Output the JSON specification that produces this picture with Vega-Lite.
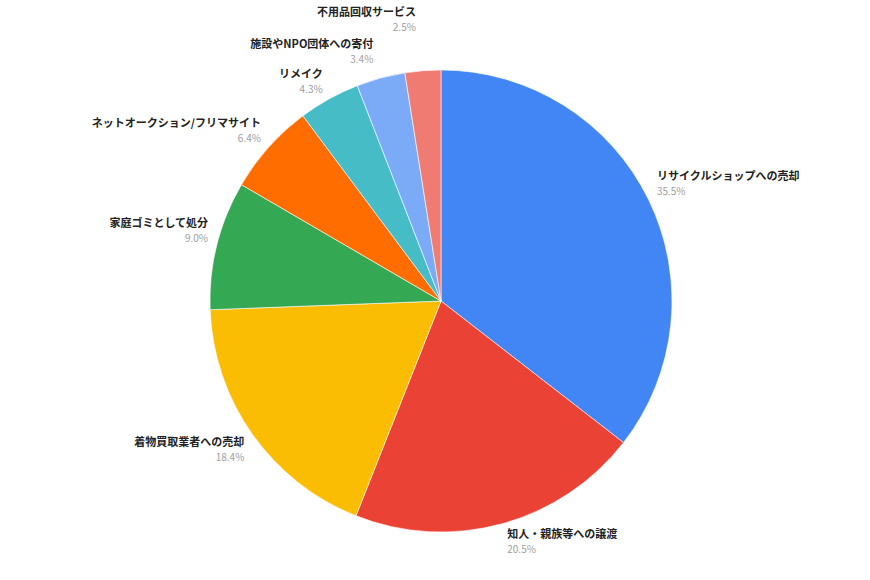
{
  "$schema": "https://vega.github.io/schema/vega-lite/v6.json",
  "autosize": {"type": "none"},
  "width": 858,
  "height": 558,
  "padding": {"left": 12, "top": 22, "right": 0, "bottom": 0},
  "background": "white",
  "view": {"stroke": null},
  "data": {
    "values": [
      {"label": "リサイクルショップへの売却", "share": 0.355, "order": 1},
      {"label": "知人・親族等への譲渡", "share": 0.205, "order": 2},
      {"label": "着物買取業者への売却", "share": 0.184, "order": 3},
      {"label": "家庭ゴミとして処分", "share": 0.09, "order": 4},
      {"label": "ネットオークション/フリマサイト", "share": 0.064, "order": 5},
      {"label": "リメイク", "share": 0.043, "order": 6},
      {"label": "施設やNPO団体への寄付", "share": 0.034, "order": 7},
      {"label": "不用品回収サービス", "share": 0.025, "order": 8}
    ]
  },
  "encoding": {
    "theta": {"field": "share", "type": "quantitative", "stack": true},
    "order": {"field": "order", "type": "quantitative"}
  },
  "layer": [
    {
      "mark": {"type": "arc", "outerRadius": 231, "stroke": "white", "strokeWidth": 0.6},
      "encoding": {
        "color": {
          "field": "label",
          "type": "nominal",
          "legend": null,
          "scale": {
            "domain": ["リサイクルショップへの売却", "知人・親族等への譲渡", "着物買取業者への売却", "家庭ゴミとして処分", "ネットオークション/フリマサイト", "リメイク", "施設やNPO団体への寄付", "不用品回収サービス"],
            "range": ["#4285F4", "#EA4335", "#FBBC04", "#34A853", "#FF6D01", "#46BDC6", "#7BAAF7", "#F07B72"]
          }
        }
      }
    },
    {
      "mark": {
        "type": "text",
        "font": "Noto Sans CJK JP",
        "fontSize": 11,
        "fontWeight": "bold",
        "color": "#222222",
        "align": {"expr": "(datum.share_start + datum.share_end) / 2 < 0.5 ? 'left' : 'right'"},
        "dx": {"expr": "(datum.share_start + datum.share_end) / 2 < 0.5 ? 4 : -4"},
        "baseline": {"expr": "((datum.share_start + datum.share_end) / 2 < 0.25 || (datum.share_start + datum.share_end) / 2 > 0.75) ? 'bottom' : 'top'"},
        "dy": {"expr": "((datum.share_start + datum.share_end) / 2 < 0.25 || (datum.share_start + datum.share_end) / 2 > 0.75) ? -15 : 0"}
      },
      "encoding": {
        "text": {"field": "label", "type": "nominal"},
        "radius": {
          "field": "share",
          "type": "quantitative",
          "scale": {"type": "linear", "domain": [0.025, 0.034, 0.043], "range": [269, 244, 236], "clamp": true, "zero": false, "nice": false}
        }
      }
    },
    {
      "mark": {
        "type": "text",
        "font": "Noto Sans CJK JP",
        "fontSize": 10,
        "color": "#9e9e9e",
        "align": {"expr": "(datum.share_start + datum.share_end) / 2 < 0.5 ? 'left' : 'right'"},
        "dx": {"expr": "(datum.share_start + datum.share_end) / 2 < 0.5 ? 4 : -4"},
        "baseline": {"expr": "((datum.share_start + datum.share_end) / 2 < 0.25 || (datum.share_start + datum.share_end) / 2 > 0.75) ? 'bottom' : 'top'"},
        "dy": {"expr": "((datum.share_start + datum.share_end) / 2 < 0.25 || (datum.share_start + datum.share_end) / 2 > 0.75) ? 0 : 16"}
      },
      "encoding": {
        "text": {"field": "share", "type": "quantitative", "format": ".1%"},
        "radius": {
          "field": "share",
          "type": "quantitative",
          "scale": {"type": "linear", "domain": [0.025, 0.034, 0.043], "range": [269, 244, 236], "clamp": true, "zero": false, "nice": false}
        }
      }
    }
  ]
}
